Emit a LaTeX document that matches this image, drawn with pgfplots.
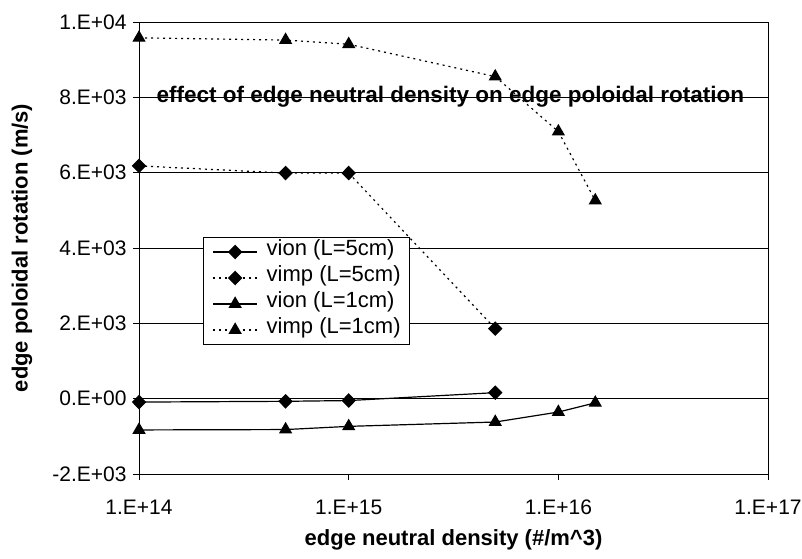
\documentclass[border=0pt]{standalone}
\usepackage{pgfplots}
\pgfplotsset{compat=1.18}
\usepackage{fontspec}
\setmainfont{Liberation Sans}
\begin{document}
\begin{tikzpicture}[x=1pt,y=1pt]
\useasboundingbox (-139,-84) rectangle (663,474);
\begin{axis}[
  scale only axis, width=629pt, height=452pt, at={(0,0)}, anchor=south west,
  xmode=log, log basis x=10, xmin=1e14, xmax=1e17, ymin=-2000, ymax=10000,
  xtick={1e14,1e15,1e16,1e17}, xticklabels={1.E+14,1.E+15,1.E+16,1.E+17},
  minor xtick={}, xminorticks=false,
  ytick={-2000,0,2000,4000,6000,8000,10000},
  yticklabels={-2.E+03,0.E+00,2.E+03,4.E+03,6.E+03,8.E+03,1.E+04},
  scaled y ticks=false,
  ymajorgrids, major grid style={black, line width=0.7pt},
  axis line style={black, line width=0.8pt},
  tick style={black, line width=0.7pt}, tick align=outside, major tick length=6pt,
  xtick pos=bottom, ytick pos=left,
  ticklabel style={font=\fontsize{21}{21}\selectfont},
  xticklabel style={anchor=center, yshift=-27pt},
  yticklabel style={anchor=east, xshift=-3pt},
  xlabel={\textbf{edge neutral density (\#/m\^{}3)}},
  ylabel={\textbf{edge poloidal rotation (m/s)}},
  label style={font=\fontsize{22}{22}\selectfont},
  xlabel style={at={(axis description cs:0.5,-0.146)}, anchor=center},
  ylabel style={at={(axis description cs:-0.186,0.5)}, anchor=center},
  legend cell align=left,
  legend style={at={(0.102,0.524)}, anchor=north west, draw=black, line width=0.7pt,
    font=\fontsize{22}{24}\selectfont, inner xsep=9pt, inner ysep=2pt, row sep=1pt,
    nodes={inner sep=0pt, text height=16pt, text depth=9pt},
    /tikz/every odd column/.style={column sep=9pt}},
  legend image code/.code={\draw[mark repeat=2,mark phase=2,#1] plot coordinates {(0pt,0pt)(22pt,0pt)(44pt,0pt)};},
]
\addplot[black, line width=1.2pt, mark=diamond*, mark size=6.5pt, mark options={solid, xscale=1.3}]
  coordinates {(1e14,-90)(5e14,-70)(1e15,-50)(5e15,160)};
\addlegendentry{vion (L=5cm)\hspace{6pt}}
\addplot[black, line width=1.2pt, dash pattern=on 2pt off 4pt, mark=diamond*, mark size=6.5pt, mark options={solid, xscale=1.3}]
  coordinates {(1e14,6180)(5e14,5990)(1e15,5990)(5e15,1860)};
\addlegendentry{vimp (L=5cm)\hspace{6pt}}
\addplot[black, line width=1.2pt, mark=triangle*, mark size=6.5pt, mark options={solid}]
  coordinates {(1e14,-830)(5e14,-820)(1e15,-735)(5e15,-620)(1e16,-355)(1.5e16,-110)};
\addlegendentry{vion (L=1cm)\hspace{6pt}}
\addplot[black, line width=1.2pt, dash pattern=on 2pt off 4pt, mark=triangle*, mark size=6.5pt, mark options={solid}]
  coordinates {(1e14,9580)(5e14,9520)(1e15,9410)(5e15,8550)(1e16,7090)(1.5e16,5260)};
\addlegendentry{vimp (L=1cm)\hspace{6pt}}
\node[font=\bfseries\fontsize{22.5}{22.5}\selectfont, anchor=center] at (rel axis cs:0.495,0.834) {effect of edge neutral density on edge poloidal rotation};
\end{axis}
\end{tikzpicture}
\end{document}
